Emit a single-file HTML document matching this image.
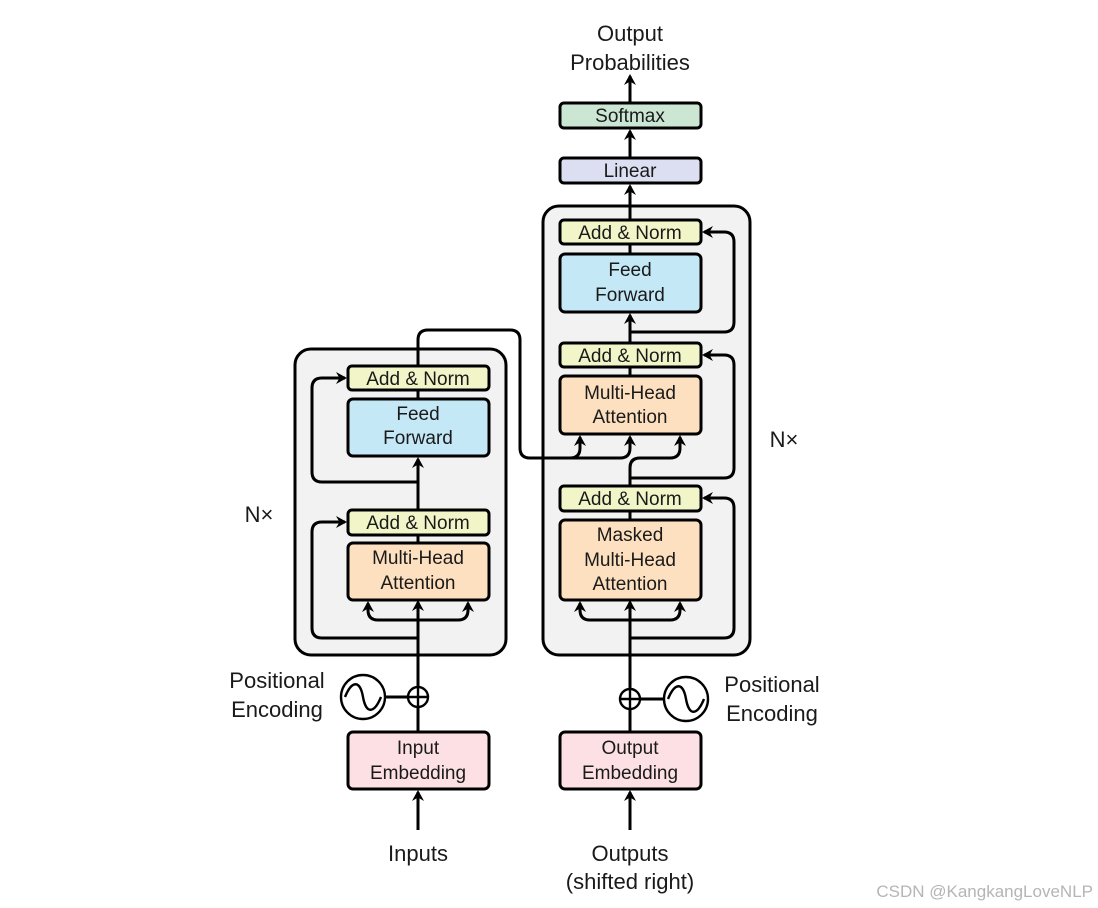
<!DOCTYPE html>
<html><head><style>
html,body{margin:0;padding:0;background:#fff;}
svg{display:block;}
text{font-family:"Liberation Sans",sans-serif;fill:#1a1a1a;text-anchor:middle;}
</style></head><body>
<svg width="1098" height="908" viewBox="0 0 1098 908" xmlns="http://www.w3.org/2000/svg">
<defs>
<marker id="a" markerWidth="14" markerHeight="14" refX="9" refY="6" orient="auto" markerUnits="userSpaceOnUse">
<path d="M0,0 L11,6 L0,12 L3.5,6 Z" fill="#000"/>
</marker>
</defs>
<g stroke="#000" stroke-width="3" fill="none">
<rect x="295" y="349" width="211" height="306" rx="16" fill="#f2f2f2"/>
<rect x="543" y="206" width="207" height="449" rx="16" fill="#f2f2f2"/>
</g>
<g stroke="#000" stroke-width="3" fill="none">
<path d="M418 830 L418 792" marker-end="url(#a)"/>
<path d="M418 732 L418 707"/>
<path d="M418 686 L418 602" marker-end="url(#a)"/>
<path d="M418 620 L378 620 Q368 620 368 610 L368 603" marker-end="url(#a)"/>
<path d="M418 620 L458 620 Q468 620 468 610 L468 603" marker-end="url(#a)"/>
<path d="M418 638 L322 638 Q312 638 312 628 L312 532 Q312 522 322 522 L345 522" marker-end="url(#a)"/>
<path d="M418 509 L418 459" marker-end="url(#a)"/>
<path d="M418 482 L322 482 Q312 482 312 472 L312 388 Q312 378 322 378 L345 378" marker-end="url(#a)"/>
<path d="M418 366 L418 340 Q418 330 428 330 L510 330 Q520 330 520 340 L520 448 Q520 458 530 458 L570 458 Q580 458 580 448 L580 437" marker-end="url(#a)"/>
<path d="M570 458 L620 458 Q630 458 630 448 L630 437" marker-end="url(#a)"/>
<path d="M630 830 L630 792" marker-end="url(#a)"/>
<path d="M630 732 L630 710"/>
<path d="M630 689 L630 602" marker-end="url(#a)"/>
<path d="M630 620 L590 620 Q580 620 580 610 L580 603" marker-end="url(#a)"/>
<path d="M630 620 L670 620 Q680 620 680 610 L680 603" marker-end="url(#a)"/>
<path d="M630 638 L724 638 Q734 638 734 628 L734 508 Q734 498 724 498 L704 498" marker-end="url(#a)"/>
<path d="M630 486 L630 468 Q630 458 640 458 L670 458 Q680 458 680 448 L680 437" marker-end="url(#a)"/>
<path d="M630 478 L724 478 Q734 478 734 468 L734 365 Q734 355 724 355 L704 355" marker-end="url(#a)"/>
<path d="M630 343 L630 315" marker-end="url(#a)"/>
<path d="M630 332 L724 332 Q734 332 734 322 L734 242 Q734 232 724 232 L704 232" marker-end="url(#a)"/>
<path d="M630 220 L630 186" marker-end="url(#a)"/>
<path d="M630 158 L630 131" marker-end="url(#a)"/>
<path d="M630 103 L630 76" marker-end="url(#a)"/>
<path d="M418 390 L418 399"/><path d="M418 535 L418 543"/>
<path d="M630 244 L630 254"/><path d="M630 367 L630 376"/><path d="M630 511 L630 520"/>
<path d="M385 697 L408 697"/><path d="M641 699 L664 699"/>
</g>
<g stroke="#000" stroke-width="3">
<rect x="348" y="366" width="141" height="24" rx="4" fill="#f2f5c8"/>
<rect x="348" y="399" width="141" height="57" rx="5" fill="#c5e8f7"/>
<rect x="348" y="510" width="141" height="25" rx="4" fill="#f2f5c8"/>
<rect x="348" y="543" width="141" height="57" rx="5" fill="#fde0bf"/>
<rect x="348" y="732" width="141" height="57" rx="5" fill="#fce0e3"/>
<rect x="560" y="220" width="141" height="24" rx="4" fill="#f2f5c8"/>
<rect x="560" y="254" width="141" height="58" rx="5" fill="#c5e8f7"/>
<rect x="560" y="343" width="141" height="24" rx="4" fill="#f2f5c8"/>
<rect x="560" y="376" width="141" height="58" rx="5" fill="#fde0bf"/>
<rect x="560" y="486" width="141" height="25" rx="4" fill="#f2f5c8"/>
<rect x="560" y="520" width="141" height="80" rx="5" fill="#fde0bf"/>
<rect x="560" y="732" width="141" height="57" rx="5" fill="#fce0e3"/>
<rect x="560" y="158" width="141" height="25" rx="4" fill="#dcdff2"/>
<rect x="560" y="103" width="141" height="25" rx="4" fill="#cbe7d4"/>
</g>
<g stroke="#000" stroke-width="2.4" fill="#fff">
<circle cx="418" cy="697" r="10"/><path d="M408 697 H428 M418 687 V707"/>
<circle cx="630" cy="699" r="10"/><path d="M620 699 H640 M630 689 V709"/>
<circle cx="363" cy="697" r="22"/>
<circle cx="686" cy="699" r="22"/>
</g>
<g stroke="#000" stroke-width="2.4" fill="none">
<path d="M345 697 C352 680 360 680 363 697 C366 714 374 714 381 697"/>
<path d="M668 699 C675 682 683 682 686 699 C689 716 697 716 704 699"/>
</g>
<g font-size="19">
<text x="418" y="385">Add &amp; Norm</text>
<text x="418" y="420">Feed</text><text x="418" y="444">Forward</text>
<text x="418" y="529">Add &amp; Norm</text>
<text x="418" y="564">Multi-Head</text><text x="418" y="589">Attention</text>
<text x="418" y="754">Input</text><text x="418" y="779">Embedding</text>
<text x="630" y="239">Add &amp; Norm</text>
<text x="630" y="276">Feed</text><text x="630" y="301">Forward</text>
<text x="630" y="362">Add &amp; Norm</text>
<text x="630" y="399">Multi-Head</text><text x="630" y="423">Attention</text>
<text x="630" y="505">Add &amp; Norm</text>
<text x="630" y="541">Masked</text><text x="630" y="566">Multi-Head</text><text x="630" y="590">Attention</text>
<text x="630" y="754">Output</text><text x="630" y="779">Embedding</text>
<text x="630" y="177">Linear</text>
<text x="630" y="122">Softmax</text>
</g>
<g font-size="22">
<text x="630" y="41">Output</text><text x="630" y="70">Probabilities</text>
<text x="418" y="861">Inputs</text>
<text x="630" y="861">Outputs</text><text x="630" y="889">(shifted right)</text>
<text x="277" y="688">Positional</text><text x="277" y="717">Encoding</text>
<text x="772" y="692">Positional</text><text x="772" y="721">Encoding</text>
<text x="259" y="522">N×</text>
<text x="784" y="447">N×</text>
</g>
<text x="1093" y="897" font-size="17" style="fill:#b5b5b5;text-anchor:end">CSDN @KangkangLoveNLP</text>
</svg>
</body></html>
